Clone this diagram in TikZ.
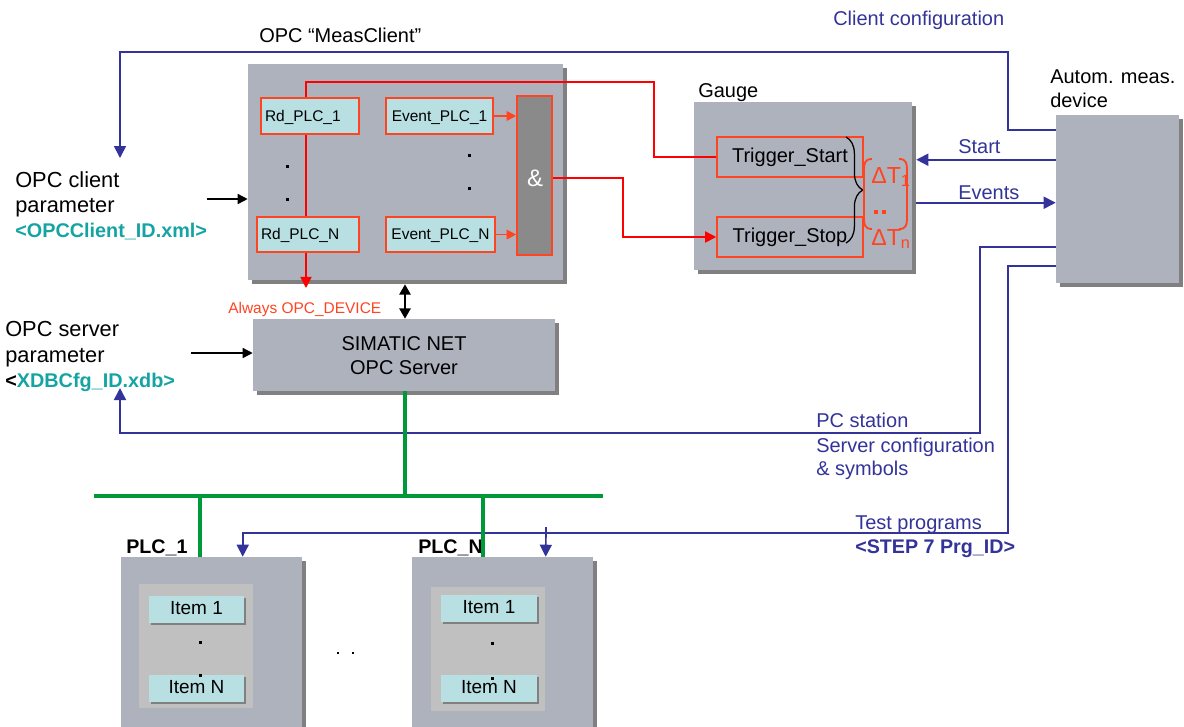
\documentclass[tikz,border=0pt]{standalone}
\usepackage{fontspec}
\setmainfont{Liberation Sans}
\usetikzlibrary{arrows.meta,shadows,calc,decorations.pathreplacing}
\newcommand\pxu{0.025cm}
\definecolor{boxgray}{HTML}{AEB2BD}
\definecolor{shgray}{HTML}{808080}
\definecolor{cyanfill}{HTML}{B8E0E3}
\definecolor{redbox}{HTML}{FF4422}
\definecolor{redline}{HTML}{FF0000}
\definecolor{blueline}{HTML}{333399}
\definecolor{greenline}{HTML}{00993A}
\definecolor{tealtxt}{HTML}{16A3A3}
\definecolor{innergray}{HTML}{C0C0C0}
\definecolor{andgray}{HTML}{8A8A8A}
\begin{document}
\begin{tikzpicture}[x=0.025cm,y=-0.025cm,
  fA/.style={font=\fontsize{14.2}{17}\selectfont},
  fB/.style={font=\fontsize{15.5}{18}\selectfont},
  fS/.style={font=\fontsize{11}{13}\selectfont},
  lbl/.style={inner sep=0pt,anchor=base west},
  gbox/.style={fill=boxgray,draw=none,inner sep=0pt,
    drop shadow={shadow xshift=0.1cm,shadow yshift=-0.1cm,fill=shgray,opacity=1}},
  cbox/.style={fill=cyanfill,draw=redbox,line width=1.1pt,inner sep=0pt,fS,
    text height=0.72em,text depth=0pt},
  tbox/.style={draw=redbox,line width=1.1pt,inner sep=0pt,fA,
    text height=0.72em,text depth=0pt},
  andbox/.style={fill=andgray,draw=redbox,line width=1.1pt,inner sep=0pt},
  inbox/.style={fill=innergray,draw=none,inner sep=0pt},
  itembox/.style={fill=cyanfill,draw=none,inner sep=0pt,
    font=\fontsize{13.5}{16}\selectfont,text height=0.72em,text depth=0pt,
    drop shadow={shadow xshift=0.05cm,shadow yshift=-0.05cm,fill=shgray,opacity=1}},
  bdot/.style={fill=black,draw=none,inner sep=0pt,minimum size=0.075cm},
  rdot/.style={fill=redbox,draw=none,inner sep=0pt,minimum size=0.08cm},
  redln/.style={draw=redline,line width=1.2pt},
  redarr/.style={redln,-{Triangle[length=2.8mm,width=2.8mm]}},
  evarr/.style={draw=redbox,line width=1.2pt,-{Triangle[length=2.4mm,width=2.4mm]}},
  blueln/.style={draw=blueline,line width=1.2pt},
  bluearr/.style={blueln,-{Triangle[length=3mm,width=3mm]}},
  greenln/.style={draw=greenline,line width=2.2pt},
  blackarr/.style={draw=black,line width=1pt,-{Triangle[length=2.5mm,width=2.5mm]}},
  dblarr/.style={draw=black,line width=1.6pt,{Triangle[length=2.6mm,width=2.8mm]}-{Triangle[length=2.6mm,width=2.8mm]}}
]
\useasboundingbox (0,0) rectangle (1184,726);
\clip (0,0) rectangle (1184,726);

% ---------- coordinates
\coordinate (xr) at (306,0);
\coordinate (xa) at (623,0);
\coordinate (dx) at (405,0);
\coordinate (cctip) at (120,158);
\coordinate (pctip) at (120,388);
\coordinate (rdtip) at (306,288);
\coordinate (ca) at (207,199);
\coordinate (sa) at (191,353);
\coordinate (busL) at (94,496);
\coordinate (busR) at (603,496);
\coordinate (g1) at (200,496);
\coordinate (g2) at (483,496);
\coordinate (tpN) at (546,527);

% ---------- MeasClient
\node[gbox,minimum width=315*\pxu,minimum height=216*\pxu] (mc) at (405.5,172) {};
\node[cbox,minimum height=36*\pxu,text width=90*\pxu,inner xsep=0.1cm,align=left] (rd1) at (310,116) {Rd\_PLC\_1};
\node[cbox,minimum height=35*\pxu,text width=94*\pxu,inner xsep=0.1cm,align=left] (rdN) at (308,234.5) {Rd\_PLC\_N};
\node[cbox,minimum width=107*\pxu,minimum height=36*\pxu] (ev1) at (439.5,116) {Event\_PLC\_1};
\node[cbox,minimum width=109*\pxu,minimum height=35*\pxu] (evN) at (440.5,234.5) {Event\_PLC\_N};
\node[andbox,minimum width=35*\pxu,minimum height=159*\pxu] (and) at (534.5,175.5) {};
\node[inner sep=0pt,text=white,font=\fontsize{17}{20}\selectfont] (andtxt) at (535,178) {\&};
\node[bdot] (d1) at (287,166) {};
\node[bdot] (d2) at (287,199) {};
\node[bdot] (d3) at (469,155) {};
\node[bdot] (d4) at (469,188) {};
\node[lbl,fA] (mclbl) at (259,42) {OPC “MeasClient”};

% ---------- Gauge
\node[gbox,minimum width=218*\pxu,minimum height=168*\pxu] (gauge) at (803,186) {};
\node[lbl,fA] (gaugelbl) at (698,97) {Gauge};
\node[tbox,minimum width=146*\pxu,minimum height=40*\pxu] (ts) at (790,157) {Trigger\_Start};
\node[tbox,minimum width=146*\pxu,minimum height=40*\pxu] (tstop) at (790,237) {Trigger\_Stop};
\draw[decorate,decoration={brace,amplitude=0.42cm},line width=0.9pt] (846,137) -- (846,243);
\draw[draw=redbox,line width=1.3pt] (872,159) .. controls (865,159) and (864,163) .. (864,170) -- (864,218) .. controls (864,225) and (865,229) .. (872,229);
\draw[draw=redbox,line width=1.3pt] (899,159) .. controls (906,159) and (907,163) .. (907,170) -- (907,218) .. controls (907,225) and (906,229) .. (899,229);
\node[lbl,text=redbox,font=\fontsize{16.5}{19}\selectfont] (dt1) at (871,183) {ΔT\textsubscript{1}};
\node[lbl,text=redbox,font=\fontsize{16.5}{19}\selectfont] (dtn) at (871,245) {ΔT\textsubscript{n}};
\node[rdot] (rd_a) at (876,212) {};
\node[rdot] (rd_b) at (884,212) {};

% ---------- Autom. meas. device
\node[gbox,minimum width=123*\pxu,minimum height=168*\pxu] (autom) at (1117.5,199) {};
\node[lbl,fA] (al1) at (1050,83) {Autom. meas.};
\node[lbl,fA] (al2) at (1050,107) {device};

% ---------- SIMATIC NET
\node[gbox,minimum width=302*\pxu,minimum height=72*\pxu] (sim) at (404,355) {};
\node[lbl,fA,anchor=base] (sim1) at (404,350) {SIMATIC NET};
\node[lbl,fA,anchor=base] (sim2) at (404,374) {OPC Server};
\node[lbl,fS,text=redbox] (always) at (228,313) {Always OPC\_DEVICE};

% ---------- left labels
\node[lbl,fB] (ocl1) at (15,187) {OPC client};
\node[lbl,fB] (ocl2) at (15,212) {parameter};
\node[lbl,font=\fontsize{14.1}{17}\selectfont\bfseries,text=tealtxt] (ocl3) at (15,237) {<OPCClient\_ID.xml>};
\node[lbl,fB] (osl1) at (5,336) {OPC server};
\node[lbl,fB] (osl2) at (5,362) {parameter};
\node[lbl,font=\fontsize{14.1}{17}\selectfont\bfseries,text=tealtxt] (osl3) at (5,387) {\textcolor{black}{<}XDBCfg\_ID.xdb>};

% ---------- blue labels
\node[lbl,fA,text=blueline] (lcc) at (833,25) {Client configuration};
\node[lbl,fA,text=blueline] (lst) at (958,153) {Start};
\node[lbl,fA,text=blueline] (lev) at (958,199) {Events};
\node[lbl,fA,text=blueline] (lpc1) at (816,427) {PC station};
\node[lbl,fA,text=blueline] (lpc2) at (816,452) {Server configuration};
\node[lbl,fA,text=blueline] (lpc3) at (816,475) {\& symbols};
\node[lbl,fA,text=blueline] (ltp1) at (855,529) {Test programs};
\node[lbl,font=\fontsize{14}{17}\selectfont\bfseries,text=blueline] (ltp2) at (855,553) {<STEP 7 Prg\_ID>};

% ---------- PLC boxes
\node[gbox,minimum width=181*\pxu,minimum height=203*\pxu] (plc1) at (211.5,658.5) {};
\node[gbox,minimum width=181*\pxu,minimum height=203*\pxu] (plcN) at (502.5,658.5) {};
\node[inbox,minimum width=114*\pxu,minimum height=124*\pxu] (in1) at (196,646) {};
\node[inbox,minimum width=114*\pxu,minimum height=124*\pxu] (inN) at (488,649) {};
\node[itembox,minimum width=95*\pxu,minimum height=27*\pxu] (i11) at (196.5,609.5) {Item 1};
\node[itembox,minimum width=95*\pxu,minimum height=27*\pxu] (i1N) at (196.5,688.5) {Item N};
\node[itembox,minimum width=96*\pxu,minimum height=27*\pxu] (iN1) at (489,608.5) {Item 1};
\node[itembox,minimum width=96*\pxu,minimum height=27*\pxu] (iNN) at (489,688.5) {Item N};
\node[bdot] (p1a) at (200,642) {};
\node[bdot] (p1b) at (200,675) {};
\node[bdot] (pNa) at (492,643) {};
\node[bdot] (pNb) at (492,678) {};
\node[bdot,minimum size=0.06cm] (m1) at (338,653) {};
\node[bdot,minimum size=0.06cm] (m2) at (353,653) {};
\node[lbl,font=\fontsize{14}{17}\selectfont\bfseries] (plc1lbl) at (126,553) {PLC\_1};
\node[lbl,font=\fontsize{14}{17}\selectfont\bfseries] (plcNlbl) at (418,553) {PLC\_N};

% ---------- red connectors
\draw[redln] (rd1.north -| xr) |- (654,82) |- (ts.west);
\draw[redln] (rd1.south -| xr) -- (rdN.north -| xr);
\draw[redarr] (rdN.south -| xr) -- (rdtip);
\draw[redarr] ($(and.east)+(0,2.5)$) -| (xa |- tstop.west) -- (tstop.west);
\draw[evarr] (ev1.east) -- (and.west |- ev1.east);
\draw[evarr] (evN.east) -- (and.west |- evN.east);

% ---------- black connectors
\draw[blackarr] (ca) -- (ca -| mc.west);
\draw[blackarr] (sa) -- (sa -| sim.west);
\draw[dblarr,shorten <=0.1cm] (mc.south -| dx) -- (sim.north -| dx);

% ---------- blue connectors
\draw[bluearr] ($(autom.north west)+(0,15)$) -| (1008,52) -| (cctip);
\draw[bluearr] ($(autom.north west)+(0,45)$) -- ($(gauge.north east)+(4,58)$);
\draw[bluearr] ($(gauge.north east)+(4,101)$) -- ($(autom.north west)+(0,88)$);
\draw[bluearr] ($(autom.north west)+(0,132)$) -| (980,433) -| (pctip);
\draw[bluearr] ($(autom.north west)+(0,151)$) -| (1008,533) -| ($(plc1.north west)+(122,0)$);
\draw[bluearr] (tpN) -- ($(plcN.north west)+(134,0)$);

% ---------- green bus
\draw[greenln] (sim.south -| dx) -- (dx |- busL);
\draw[greenln] (busL) -- (busR);
\draw[greenln] (g1) -- (g1 |- plc1.north);
\draw[greenln] (g2) -- (g2 |- plcN.north);
\end{tikzpicture}
\end{document}
